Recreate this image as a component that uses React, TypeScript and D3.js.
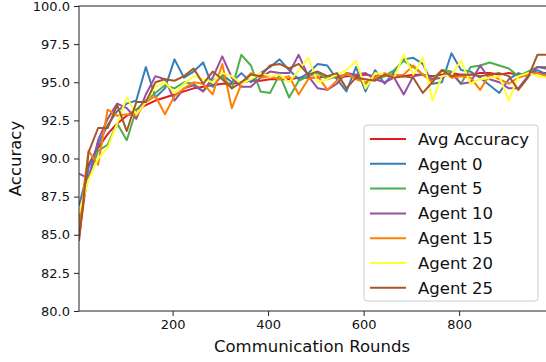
import React, { useEffect, useRef } from "react";
import * as d3 from "d3";

// communication rounds at which accuracy was logged
const rounds = [
  4, 24, 44, 64, 84, 104, 124, 144, 164, 184,
  204, 224, 244, 264, 284, 304, 324, 344, 364, 384,
  404, 424, 444, 464, 484, 504, 524, 544, 564, 584,
  604, 624, 644, 664, 684, 704, 724, 744, 764, 784,
  804, 824, 844, 864, 884, 904, 924, 944, 964, 984,
];

const avgAccuracy = [
  84.8, 89.6, 90.7, 91.6, 92.3, 92.8, 93.2, 93.5, 93.8, 94.0,
  94.2, 94.4, 94.6, 94.7, 94.8, 94.9, 94.9, 95.0, 95.1, 95.1,
  95.2, 95.2, 95.2, 95.3, 95.3, 95.3, 95.4, 95.3, 95.4, 95.4,
  95.5, 95.4, 95.4, 95.5, 95.4, 95.5, 95.5, 95.4, 95.5, 95.6,
  95.5, 95.5, 95.6, 95.6, 95.5, 95.6, 95.5, 95.5, 95.6, 95.6,
];
const agent0 = [
  86.9, 89.4, 90.9, 92.2, 93.1, 93.6, 93.8, 96.0, 94.0, 94.6,
  96.5, 95.3, 95.7, 96.3, 94.7, 95.5, 95.0, 95.6, 95.0, 95.6,
  96.0, 96.5, 95.8, 95.2, 95.6, 96.2, 96.1, 95.2, 94.4, 96.0,
  94.4, 95.8, 94.9, 95.7, 96.5, 96.6, 96.2, 94.9, 95.0, 96.9,
  95.8, 95.7, 95.3, 94.8, 94.3, 95.2, 95.6, 95.4, 95.8, 95.5,
];
const agent5 = [
  86.0, 88.8, 90.5, 90.9, 92.3, 91.2, 93.2, 93.8, 94.3, 94.8,
  94.6, 95.0, 94.9, 94.4, 95.1, 95.4, 94.6, 96.8, 96.1, 94.4,
  94.3, 95.5, 94.0, 95.1, 95.4, 95.6, 95.2, 95.4, 95.5, 95.3,
  94.9, 95.3, 95.4, 95.8, 96.4, 96.0, 95.5, 95.2, 95.8, 95.7,
  94.9, 96.0, 96.1, 96.3, 96.1, 95.9, 95.4, 95.7, 96.0, 96.0,
];
const agent10 = [
  89.0, 88.7, 91.2, 92.6, 93.6, 93.3, 92.6, 94.2, 95.4, 95.2,
  93.8, 94.6, 94.8, 94.4, 95.3, 96.7, 95.3, 94.7, 94.7, 95.3,
  95.7, 95.6, 95.6, 96.8, 95.4, 94.6, 94.5, 94.9, 95.6, 95.5,
  95.6, 95.2, 95.0, 95.3, 94.2, 95.4, 95.5, 95.2, 95.3, 95.6,
  94.9, 95.0, 96.1, 95.2, 95.0, 94.6, 94.6, 95.4, 96.0, 95.9,
];
const agent15 = [
  85.5, 90.5, 89.6, 93.2, 92.8, 92.9, 92.8, 93.7, 94.1, 92.9,
  94.1, 94.6, 95.0, 94.9, 94.2, 96.2, 93.3, 94.9, 95.6, 95.3,
  95.4, 95.2, 95.4, 94.2, 95.2, 95.4, 94.5, 95.1, 95.6, 95.2,
  95.0, 95.3, 95.6, 95.4, 95.5, 96.1, 95.5, 95.0, 95.8, 95.3,
  95.4, 95.3, 94.5, 95.5, 95.2, 94.9, 95.3, 95.5, 95.6, 95.4,
];
const agent20 = [
  86.4, 88.6, 90.0, 90.7, 92.3, 94.0, 92.9, 93.7, 94.7, 95.0,
  94.3, 94.9, 95.4, 95.2, 95.0, 95.6, 95.4, 94.9, 95.2, 95.6,
  95.4, 95.5, 95.0, 95.8, 96.6, 95.0, 95.2, 95.5, 95.8, 96.4,
  94.6, 95.6, 95.5, 95.3, 96.8, 95.5, 96.6, 93.8, 95.4, 95.5,
  96.4, 94.9, 95.2, 95.3, 95.4, 93.8, 95.4, 95.6, 95.4, 95.3,
];
const agent25 = [
  84.6, 90.4, 92.0, 92.0, 93.5, 91.8, 93.7, 93.7, 95.0, 95.2,
  95.1, 95.4, 95.9, 94.9, 95.7, 95.2, 94.6, 95.0, 95.5, 95.4,
  96.1, 96.2, 95.9, 96.2, 95.5, 95.7, 95.4, 95.6, 94.6, 95.3,
  95.2, 95.1, 95.5, 95.3, 95.4, 95.3, 94.3, 95.0, 95.8, 95.4,
  95.5, 95.5, 95.4, 95.5, 95.6, 95.4, 94.5, 95.3, 96.8, 96.8,
];

const seriesNames = ["Avg Accuracy", "Agent 0", "Agent 5", "Agent 10", "Agent 15", "Agent 20", "Agent 25"];
const seriesValues = [avgAccuracy, agent0, agent5, agent10, agent15, agent20, agent25];
const colors = ["#e41a1c", "#377eb8", "#4daf4a", "#984ea3", "#ff7f00", "#ffff33", "#a65628"];

const yTicks = [80, 82.5, 85, 87.5, 90, 92.5, 95, 97.5, 100];
const xTicks = [200, 400, 600, 800];

const FONT = "DejaVu Sans";

export default function App() {
  const ref = useRef<SVGSVGElement>(null);

  useEffect(() => {
    const width = 546;
    const height = 362;
    const left = 79, top = 6, right = 547, bottom = 311;

    const svg = d3.select(ref.current);
    svg.selectAll("*").remove();

    const x = d3.scaleLinear().domain([4, 984]).range([left, right]);
    const y = d3.scaleLinear().domain([80, 100]).range([bottom, top]);

    svg.append("rect").attr("width", width).attr("height", height).attr("fill", "white");

    svg.append("clipPath").attr("id", "plot-clip")
      .append("rect")
        .attr("x", left).attr("y", top)
        .attr("width", right - left).attr("height", bottom - top);

    const line = d3.line<number>()
      .x((d, i) => x(rounds[i]))
      .y(d => y(d));

    svg.append("g")
      .attr("clip-path", "url(#plot-clip)")
      .selectAll("path")
      .data(seriesValues)
      .join("path")
        .attr("d", d => line(d))
        .attr("fill", "none")
        .attr("stroke", (d, i) => colors[i])
        .attr("stroke-width", 2)
        .attr("stroke-linejoin", "round");

    // frame
    svg.append("rect")
      .attr("x", left).attr("y", top)
      .attr("width", right - left).attr("height", bottom - top)
      .attr("fill", "none")
      .attr("stroke", "#222")
      .attr("stroke-width", 1);

    const yAxis = svg.append("g")
      .attr("transform", `translate(${left},0)`)
      .call(d3.axisLeft(y).tickValues(yTicks).tickFormat(d3.format(".1f")).tickSize(5).tickPadding(4));
    const xAxis = svg.append("g")
      .attr("transform", `translate(0,${bottom})`)
      .call(d3.axisBottom(x).tickValues(xTicks).tickSize(5).tickPadding(4));

    [xAxis, yAxis].forEach(ax => {
      ax.select(".domain").remove();
      ax.selectAll("line").attr("stroke", "#222");
      ax.selectAll("text")
        .attr("fill", "#111")
        .attr("font-family", FONT)
        .attr("font-size", 13);
    });

    svg.append("text")
      .attr("x", (left + right) / 2 - 1)
      .attr("y", 352)
      .attr("text-anchor", "middle")
      .attr("font-family", FONT)
      .attr("font-size", 16.5)
      .attr("fill", "#111")
      .text("Communication Rounds");

    svg.append("text")
      .attr("transform", `translate(21,${(top + bottom) / 2}) rotate(-90)`)
      .attr("text-anchor", "middle")
      .attr("font-family", FONT)
      .attr("font-size", 16.5)
      .attr("fill", "#111")
      .text("Accuracy");

    // legend
    const legend = svg.append("g");
    legend.append("rect")
      .attr("x", 364).attr("y", 125)
      .attr("width", 174).attr("height", 176)
      .attr("rx", 3)
      .attr("fill", "white").attr("fill-opacity", 0.8)
      .attr("stroke", "#ccc");

    const row = legend.selectAll("g.row")
      .data(seriesNames)
      .join("g")
        .attr("class", "row")
        .attr("transform", (d, i) => `translate(0,${139 + i * 24.8})`);
    row.append("line")
      .attr("x1", 370).attr("x2", 406)
      .attr("stroke", (d, i) => colors[i])
      .attr("stroke-width", 2);
    row.append("text")
      .attr("x", 418)
      .attr("dy", "0.35em")
      .attr("font-family", FONT)
      .attr("font-size", 16.5)
      .attr("fill", "#111")
      .text(d => d);
  }, []);

  return (
    <svg ref={ref} width={546} height={362}
      style={{ position: "absolute", left: 0, top: 0, display: "block" }} />
  );
}
